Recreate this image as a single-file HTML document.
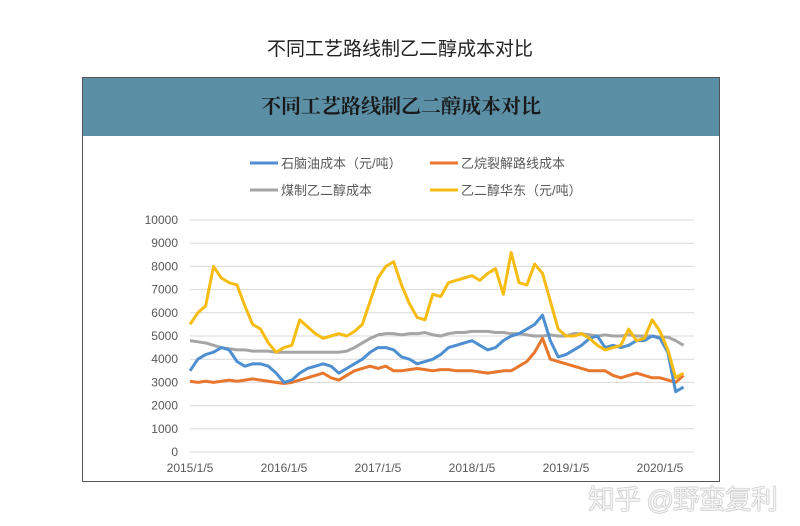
<!DOCTYPE html>
<html><head><meta charset="utf-8"><style>
body{margin:0;width:800px;height:526px;background:#fff;overflow:hidden;font-family:"Liberation Sans","Noto Sans CJK SC",sans-serif;position:relative}
#title{position:absolute;left:0;width:800px;top:34px;text-align:center;font-size:19px;color:#222}
#frame{position:absolute;left:82px;top:77px;width:638px;height:405px;border:1px solid #555;box-sizing:border-box}
#band{position:absolute;left:0;top:0;width:100%;height:58px;background:#5b8fa6;text-align:center;line-height:58px;font-family:"Liberation Serif","Noto Serif CJK SC",serif;font-weight:bold;font-size:20px;color:#1a1a1a}
#wm{position:absolute;left:588px;top:478px;font-size:27px;color:#f4f4f4;text-shadow:0 0 1px #888,0 0 1px #888;letter-spacing:-1px}
</style></head><body>
<div id="title">不同工艺路线制乙二醇成本对比</div>
<div id="frame"><div id="band">不同工艺路线制乙二醇成本对比</div></div>
<svg id="chart" width="800" height="526" style="position:absolute;left:0;top:0"></svg>
<div id="wm">知乎 @野蛮复利</div>
<script>
const yTicks=[0,1000,2000,3000,4000,5000,6000,7000,8000,9000,10000];
const xLabels=["2015/1/5","2016/1/5","2017/1/5","2018/1/5","2019/1/5","2020/1/5"];
const seriesNames=["石脑油成本（元/吨）","乙烷裂解路线成本","煤制乙二醇成本","乙二醇华东（元/吨）"];
const naphtha=[3500,4000,4200,4300,4500,4400,3900,3700,3800,3800,3700,3400,3000,3100,3400,3600,3700,3800,3700,3400,3600,3800,4000,4300,4500,4500,4400,4100,4000,3800,3900,4000,4200,4500,4600,4700,4800,4600,4400,4500,4800,5000,5100,5300,5500,5900,4800,4100,4200,4400,4600,4900,5000,4500,4600,4500,4600,4800,4800,5000,4900,4300,2600,2800];
const ethane=[3050,3000,3050,3000,3050,3100,3050,3100,3150,3100,3050,3000,2950,3000,3100,3200,3300,3400,3200,3100,3300,3500,3600,3700,3600,3700,3500,3500,3550,3600,3550,3500,3550,3550,3500,3500,3500,3450,3400,3450,3500,3500,3700,3900,4300,4900,4000,3900,3800,3700,3600,3500,3500,3500,3300,3200,3300,3400,3300,3200,3200,3100,3000,3300];
const coal=[4800,4750,4700,4600,4500,4450,4400,4400,4350,4350,4350,4300,4300,4300,4300,4300,4300,4300,4300,4300,4350,4500,4700,4900,5050,5100,5100,5050,5100,5100,5150,5050,5000,5100,5150,5150,5200,5200,5200,5150,5150,5100,5100,5050,5000,5000,5050,5000,5000,5100,5100,5050,5000,5050,5000,5000,5050,5000,5000,5000,4950,4950,4800,4600];
const meg=[5500,6000,6300,8000,7500,7300,7200,6300,5500,5300,4700,4300,4500,4600,5700,5400,5100,4900,5000,5100,5000,5200,5500,6500,7500,8000,8200,7200,6400,5800,5700,6800,6700,7300,7400,7500,7600,7400,7700,7900,6800,8600,7300,7200,8100,7700,6500,5300,5000,5000,5100,4900,4600,4400,4500,4600,5300,4800,4900,5700,5200,4400,3200,3400];
const colors=["#4e8fd1","#e8772e","#a5a5a5","#f6bc12"];
const NS="http://www.w3.org/2000/svg";
const svg=document.getElementById('chart');
const X0=190,X1=694,Y0=452,Y1=220,yearPx=94;
const xs=i=>X0+(i/12)*yearPx;
const ys=v=>Y0-(v-0)/(10000)*(Y0-Y1);
function mk(t,a){const e=document.createElementNS(NS,t);for(const k in a)e.setAttribute(k,a[k]);svg.appendChild(e);return e;}
yTicks.forEach(v=>{
 const l=mk('line',{x1:X0,x2:X1,y1:ys(v),y2:ys(v),stroke:'#d9d9d9','stroke-width':1});
 
 
 const t=mk('text',{x:X0-12,y:ys(v)+4,'text-anchor':'end','font-size':12,fill:'#595959'});
 t.textContent=v;
 
 
});
xLabels.forEach((s,i)=>{
 const t=mk('text',{x:X0+i*yearPx,y:472,'text-anchor':'middle','font-size':12,fill:'#595959'});
 t.textContent=s;
 
 
});
[naphtha,ethane,coal,meg].forEach((d,k)=>{});
[coal,ethane,naphtha,meg].forEach((d)=>{
 const k=[naphtha,ethane,coal,meg].indexOf(d);
 const p=mk('polyline',{points:d.map((v,i)=>xs(i)+','+ys(v)).join(' '),fill:'none',stroke:colors[k],'stroke-width':3,'stroke-linejoin':'round'});
 
 
});
const leg=[[250,163],[430,163],[250,190],[430,190]];
seriesNames.forEach((n,k)=>{
 const [lx,ly]=leg[k];
 const l=mk('line',{x1:lx,x2:lx+28,y1:ly,y2:ly,stroke:colors[k],'stroke-width':3});
 
 
 const t=mk('text',{x:lx+31,y:ly+5,'font-size':13,fill:'#595959'});
 t.textContent=n;
 
 
});
</script>
</body></html>
